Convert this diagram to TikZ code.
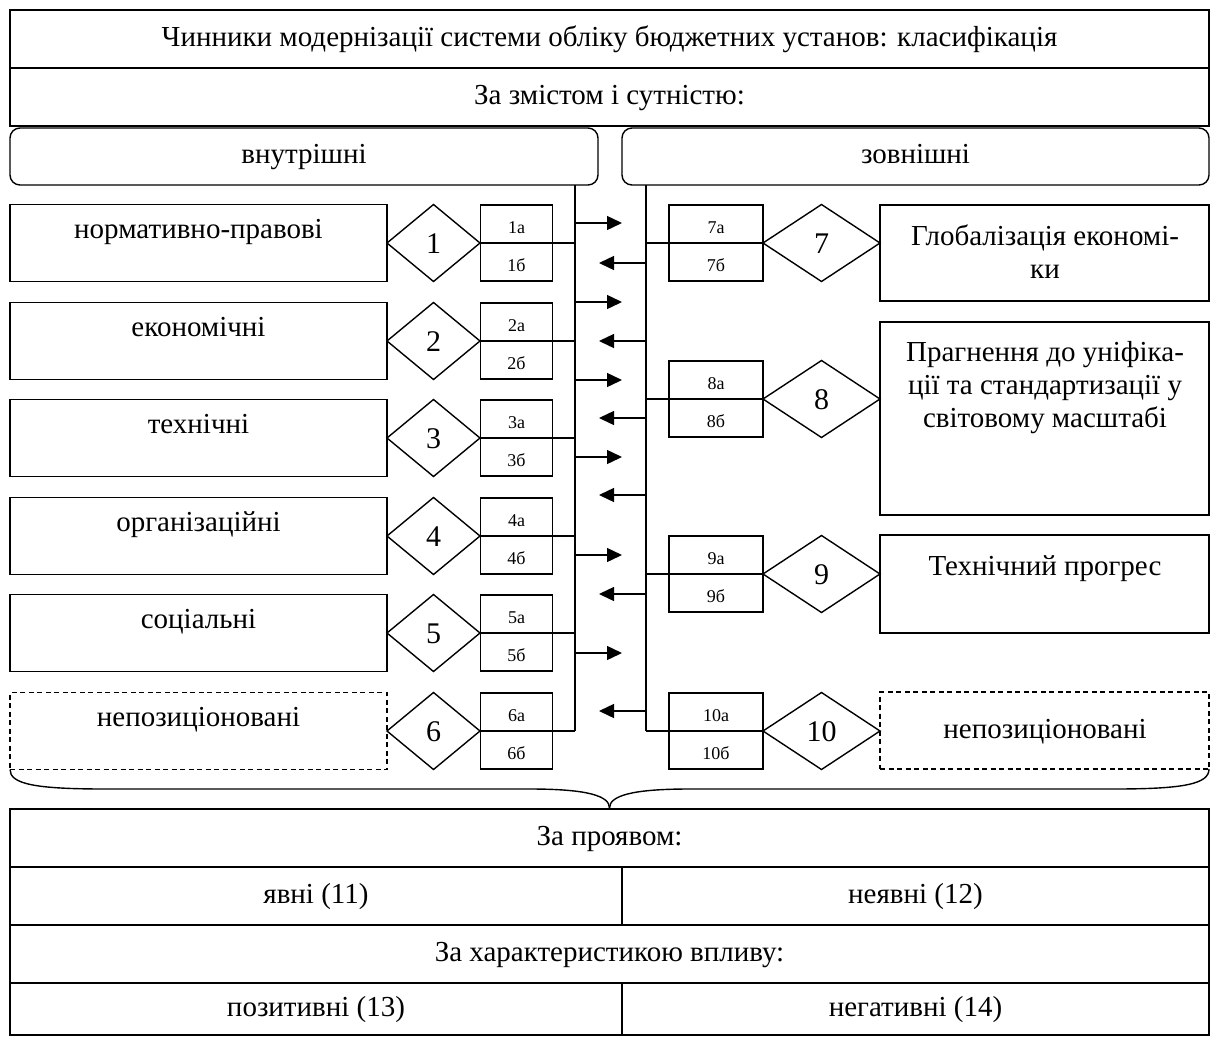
\documentclass[tikz,border=0pt]{standalone}
\usepackage{fontspec}
\setmainfont{Liberation Serif}
\usetikzlibrary{shapes.geometric,arrows.meta,calc}
\begin{document}
\begin{tikzpicture}[x=1pt,y=-1pt,
  every node/.style={inner sep=0pt,outer sep=0pt},
  frame/.style={draw,line width=1.4pt,rectangle,anchor=north west},
  dframe/.style={frame,dash pattern=on 5pt off 3.5pt},
  rframe/.style={frame,rounded corners=10pt},
  big/.style={font=\fontsize{29}{33}\selectfont,text height=20pt,text depth=6pt},
  mtxt/.style={font=\fontsize{29}{33}\selectfont,align=center},
  dia/.style={draw,line width=1.4pt,diamond,minimum height=77pt,font=\fontsize{30}{32}\selectfont,text height=20pt,text depth=0pt},
  small/.style={draw,line width=1.4pt,rectangle,minimum height=38pt,font=\fontsize{18}{20}\selectfont,text height=18pt,text depth=0pt},
  conn/.style={line width=1.4pt},
  arr/.style={line width=1.4pt,-{Triangle[length=15pt,width=14pt]}}
]
\useasboundingbox (0,0) rectangle (1210,1036);

% header
\node[frame,big,minimum width=1199pt,minimum height=58pt] (title) at (10,10) {Чинники модернізації системи обліку бюджетних установ: класифікація};
\node[frame,big,minimum width=1199pt,minimum height=58pt] (zmist) at (10,68) {За змістом і сутністю:};
\node[rframe,big,minimum width=588pt,minimum height=57pt] (in) at (10,128) {внутрішні};
\node[rframe,big,minimum width=587pt,minimum height=57pt] (out) at (622,128) {зовнішні};

\coordinate (ltop) at (575,185);
\coordinate (rtop) at (646,185);

% left rows
\foreach \i/\c/\t/\st in {1/243/нормативно-правові/frame,2/341/економічні/frame,3/438/технічні/frame,4/536/організаційні/frame,5/633/соціальні/frame,6/731/непозиціоновані/dframe}{
  \node[\st,minimum width=377pt,minimum height=77pt] (l\i) at (10,\c-38.5) {};
  \node[big] (lt\i) at ($(l\i.center)+(0,-12)$) {\t};
  \node[dia,minimum width=93pt] (d\i) at (433.5,\c) {\i};
  \node[small,minimum width=72pt,anchor=south west] (s\i a) at (480.5,\c) {\i а};
  \node[small,minimum width=72pt,anchor=north west] (s\i b) at (480.5,\c) {\i б};
  \draw[conn] (d\i.east) -- (d\i.east -| ltop);
}

% right rows
\node[frame,minimum width=329pt,minimum height=96pt] (r7) at (880,205) {};
\node[mtxt] (rt7) at (1045,252) {Глобалізація економі-\\ки};
\node[frame,minimum width=329pt,minimum height=193pt] (r8) at (880,322) {};
\node[mtxt] (rt8) at (1045,388) {Прагнення до уніфіка-\\ції та стандартизації у\\світовому масштабі};
\node[frame,minimum width=329pt,minimum height=98pt] (r9) at (880,535) {};
\node[big] (rt9) at (1045,568) {Технічний прогрес};
\node[dframe,minimum width=329pt,minimum height=77pt] (r10) at (880,692) {};
\node[big] (rt10) at (1045,731) {непозиціоновані};

\foreach \i/\c in {7/243,8/399,9/574,10/731}{
  \node[dia,minimum width=117pt] (d\i) at (821.5,\c) {\i};
  \node[small,minimum width=94pt,anchor=south west] (s\i a) at (669,\c) {\i а};
  \node[small,minimum width=94pt,anchor=north west] (s\i b) at (669,\c) {\i б};
  \draw[conn] (d\i.west) -- (d\i.west -| rtop);
}

% buses
\draw[conn] (ltop) -- (ltop |- d6.east);
\draw[conn] (rtop) -- (rtop |- d10.west);

% arrows
\foreach \k/\y in {1/223,2/302,3/380,4/457,5/555,6/653}{
  \coordinate (ra\k) at (622,\y);
  \draw[arr] (ra\k -| ltop) -- (ra\k);
}
\foreach \k/\y in {1/263,2/341,3/418,4/495,5/594,6/711}{
  \coordinate (la\k) at (599,\y);
  \draw[arr] (la\k -| rtop) -- (la\k);
}

% brace
\coordinate (btip) at (609.5,808);
\draw[conn] (l6.south west) .. controls (10,784) and (35,789) .. (105,789) -- (530,789) .. controls (588,789) and (609.5,796) .. (btip);
\draw[conn] (r10.south east) .. controls (1209,784) and (1184,789) .. (1114,789) -- (689,789) .. controls (631,789) and (609.5,796) .. (btip);

% bottom table
\node[frame,big,minimum width=1199pt,minimum height=58pt] (pr) at (10,809) {За проявом:};
\node[frame,big,minimum width=612pt,minimum height=58pt] (p1) at (10,867) {явні (11)};
\node[frame,big,minimum width=587pt,minimum height=58pt] (p2) at (622,867) {неявні (12)};
\node[frame,big,minimum width=1199pt,minimum height=58pt] (hv) at (10,925) {За характеристикою впливу:};
\node[frame,big,minimum width=612pt,minimum height=52pt] (h1) at (10,983) {позитивні (13)};
\node[frame,big,minimum width=587pt,minimum height=52pt] (h2) at (622,983) {негативні (14)};
\end{tikzpicture}
\end{document}
